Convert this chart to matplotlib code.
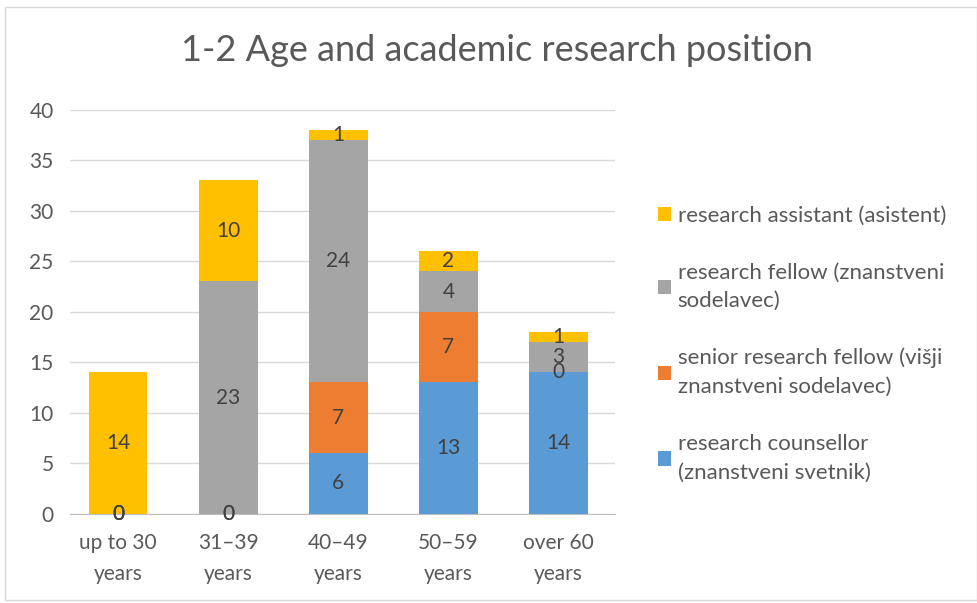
import matplotlib
matplotlib.use("Agg")
import matplotlib.pyplot as plt
from matplotlib.patches import Rectangle
import numpy as np

plt.rcParams['font.family'] = ['Lato', 'DejaVu Sans']

categories = ["up to 30\nyears", "31–39\nyears", "40–49\nyears", "50–59\nyears", "over 60\nyears"]
counsellor = [0, 0, 6, 13, 14]
senior_fellow = [0, 0, 7, 7, 0]
fellow = [0, 23, 24, 4, 3]
assistant = [14, 10, 1, 2, 1]

series_names = ["research counsellor\n(znanstveni svetnik)",
                "senior research fellow (višji\nznanstveni sodelavec)",
                "research fellow (znanstveni\nsodelavec)",
                "research assistant (asistent)"]
colors = ["#5B9BD5", "#ED7D31", "#A5A5A5", "#FFC000"]
yticks = [0, 5, 10, 15, 20, 25, 30, 35, 40]

fig = plt.figure(figsize=(9.78, 6.03), dpi=100)
ax = fig.add_axes([0.072, 0.148, 0.557, 0.670])

x = np.arange(len(categories))
bottom = np.zeros(len(categories))
containers = []
for vals, name, c in zip([counsellor, senior_fellow, fellow, assistant], series_names, colors):
    bars = ax.bar(x, vals, 0.53, bottom=bottom, color=c, label=name, zorder=3)
    containers.append(bars)
    bottom += np.array(vals)

for bars in containers:
    ax.bar_label(bars, label_type='center', fontsize=15, color='#404040')

ax.set_ylim(0, 40)
ax.set_xlim(-0.435, 4.515)
ax.set_yticks(yticks)
ax.set_xticks(x)
ax.set_xticklabels(categories, fontsize=15, color='#595959', linespacing=1.7)
ax.tick_params(axis='y', labelsize=15, labelcolor='#595959', length=0, pad=12)
ax.tick_params(axis='x', length=0, pad=14)
ax.yaxis.grid(True, color='#D9D9D9', linewidth=1, zorder=0)
for s in ['top', 'right', 'left']:
    ax.spines[s].set_visible(False)
ax.spines['bottom'].set_color('#BFBFBF')
ax.set_axisbelow(True)

handles, labels = ax.get_legend_handles_labels()
leg = fig.legend(handles[::-1], labels[::-1], loc='upper left', bbox_to_anchor=(0.652, 0.692),
                 frameon=False, fontsize=16, labelcolor='#595959', handlelength=0.6,
                 handleheight=0.6, handletextpad=0.3, labelspacing=1.65)
for t in leg.get_texts():
    t.set_linespacing(1.55)

fig.text(0.508, 0.917, "1-2 Age and academic research position", ha='center', va='center',
         fontsize=26, color='#595959')

fig.patches.append(Rectangle((0.005, 0.005), 0.994, 0.983, transform=fig.transFigure,
                             fill=False, edgecolor='#D9D9D9', linewidth=1))

fig.savefig("out.png", dpi=100)
